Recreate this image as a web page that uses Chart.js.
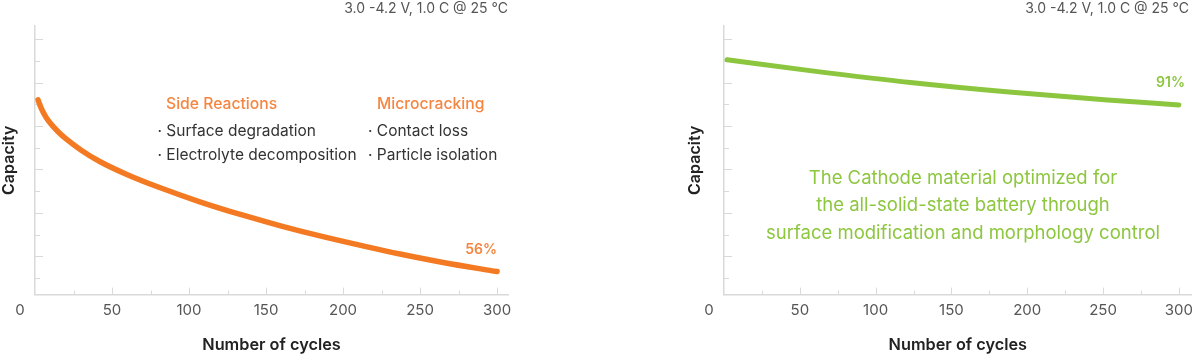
<!DOCTYPE html>
<html>
<head>
<meta charset="utf-8">
<script src="https://cdn.jsdelivr.net/npm/chart.js@4.4.1/dist/chart.umd.min.js"></script>
<style>
html,body{margin:0;padding:0;background:#fff;width:1200px;height:356px;overflow:hidden;font-family:Inter,"Noto Sans",sans-serif;}
.wrap{position:absolute;top:0;width:520px;height:356px;}
#w1{left:0;}
#w2{left:680px;}
canvas{position:absolute;left:0;top:0;}
.t{position:absolute;white-space:nowrap;line-height:1;}
.hdr{font-size:14px;color:#555;top:0.6px;}
.head{font-size:15.7px;font-weight:500;color:#F58540;top:95.5px;}
.bul{font-size:15.5px;color:#333;}
.pct{font-size:14px;font-weight:600;top:242px;}
.green{position:absolute;font-size:18.5px;line-height:27.6px;color:#8DC63F;text-align:center;white-space:nowrap;left:33px;width:500px;top:163.5px;}
</style>
</head>
<body>
<div class="wrap" id="w1">
  <canvas id="c1" width="520" height="356"></canvas>
  <div class="t hdr" style="right:12px;">3.0 -4.2 V, 1.0 C @ 25 °C</div>
  <div class="t head" style="left:166px;">Side Reactions</div>
  <div class="t head" style="left:377px;">Microcracking</div>
  <div class="t bul" style="left:157.5px;top:123.3px;">· Surface degradation</div>
  <div class="t bul" style="left:157.5px;top:147.3px;">· Electrolyte decomposition</div>
  <div class="t bul" style="left:368px;top:123.3px;">· Contact loss</div>
  <div class="t bul" style="left:368px;top:147.3px;">· Particle isolation</div>
  <div class="t pct" style="right:23px;color:#F58540;">56%</div>
</div>
<div class="wrap" id="w2">
  <canvas id="c2" width="520" height="356"></canvas>
  <div class="t hdr" style="right:11px;">3.0 -4.2 V, 1.0 C @ 25 °C</div>
  <div class="t pct" style="right:15px;top:75.3px;color:#8DC63F;">91%</div>
  <div class="green">The Cathode material optimized for<br>the all-solid-state battery through<br>surface modification and morphology control</div>
</div>
<script>
// ---- data ----
const cycleTickLabels = [0, 50, 100, 150, 200, 250, 300];
const conventionalCycles   = [2, 4, 7, 10, 15, 20, 30, 42, 60, 80, 107, 135, 160, 187, 215, 237, 265, 300];
const conventionalCapacity = [92.1, 88.3, 84.3, 81.3, 77.4, 74.2, 68.9, 63.7, 57.6, 51.9, 45.1, 38.9, 33.9, 29.0, 24.4, 21.0, 17.1, 12.9];
const optimizedCycles   = [2, 58, 123, 188, 253, 300];
const optimizedCapacity = [110.6, 105.5, 100.1, 95.7, 92.1, 89.8];

const AXIS = '#d9d9d9';
const FONT = 'Inter, "Noto Sans", sans-serif';

const insideTicks = {
  id: 'insideTicks',
  beforeDatasetsDraw(chart) {
    const {ctx, scales: {x, y}} = chart;
    ctx.save();
    ctx.strokeStyle = AXIS;
    ctx.lineWidth = 1;
    for (let v = 10; v <= 120; v += 10) {
      const py = Math.round(y.getPixelForValue(v)) + 0.5;
      const len = (v % 20 === 0) ? 8 : 5;
      ctx.beginPath(); ctx.moveTo(x.left, py); ctx.lineTo(x.left + len, py); ctx.stroke();
    }
    for (let v = 25; v <= 300; v += 25) {
      const px = Math.round(x.getPixelForValue(v)) + 0.5;
      const len = (v % 50 === 0) ? 7 : 4;
      ctx.beginPath(); ctx.moveTo(px, y.bottom); ctx.lineTo(px, y.bottom - len); ctx.stroke();
    }
    ctx.restore();
  },
  afterDraw(chart) {
    const {ctx, scales: {x, y}} = chart;
    ctx.save();
    ctx.font = '15px ' + FONT;
    ctx.fillStyle = '#555';
    ctx.textAlign = 'center';
    ctx.textBaseline = 'middle';
    ctx.fillText(String(cycleTickLabels[0]), x.getPixelForValue(cycleTickLabels[0]) - 15, y.bottom + 16);
    ctx.restore();
  }
};

function makeChart(id, cycles, capacity, color, lineW, xMax, pad, yTitlePadBottom) {
  return new Chart(document.getElementById(id), {
    type: 'line',
    data: {
      datasets: [{
        data: cycles.map((c, i) => ({x: c, y: capacity[i]})),
        borderColor: color,
        borderWidth: lineW,
        borderCapStyle: 'round',
        borderJoinStyle: 'round',
        pointRadius: 0,
        cubicInterpolationMode: 'monotone',
        fill: false,
        clip: false
      }]
    },
    options: {
      responsive: false,
      animation: false,
      devicePixelRatio: 1,
      layout: {padding: pad},
      plugins: {legend: {display: false}, tooltip: {enabled: false}, title: {display: false}},
      scales: {
        x: {
          type: 'linear',
          min: 0,
          max: xMax,
          afterBuildTicks: (s) => { s.ticks = cycleTickLabels.map(v => ({value: v})); },
          grid: {display: false, drawTicks: false},
          border: {display: true, color: AXIS, width: 1.5},
          ticks: {
            padding: 7,
            color: '#555',
            font: {family: FONT, size: 15},
            maxRotation: 0,
            autoSkip: false,
            callback: (v) => v === 0 ? '' : String(v)
          },
          title: {
            display: true,
            text: 'Number of cycles',
            color: '#222',
            font: {family: FONT, size: 16.3, weight: '600'},
            padding: {top: 8.4, bottom: 1.4}
          }
        },
        y: {
          type: 'linear',
          min: 2.26,
          max: 126.2,
          grid: {display: false, drawTicks: false},
          border: {display: true, color: AXIS, width: 1.5},
          ticks: {display: false},
          title: {
            display: true,
            text: 'Capacity',
            color: '#222',
            font: {family: FONT, size: 16, weight: '600'},
            padding: {top: 0, bottom: yTitlePadBottom}
          }
        }
      }
    },
    plugins: [insideTicks]
  });
}

makeChart('c1', conventionalCycles, conventionalCapacity, '#F37A22', 5.5, 307.1,
  {left: 0, top: 26, right: 12, bottom: 0}, 15.8);
makeChart('c2', optimizedCycles, optimizedCapacity, '#8CC63F', 5, 308.4,
  {left: 5.9, top: 26, right: 1, bottom: 0}, 18.9);
</script>
</body>
</html>
